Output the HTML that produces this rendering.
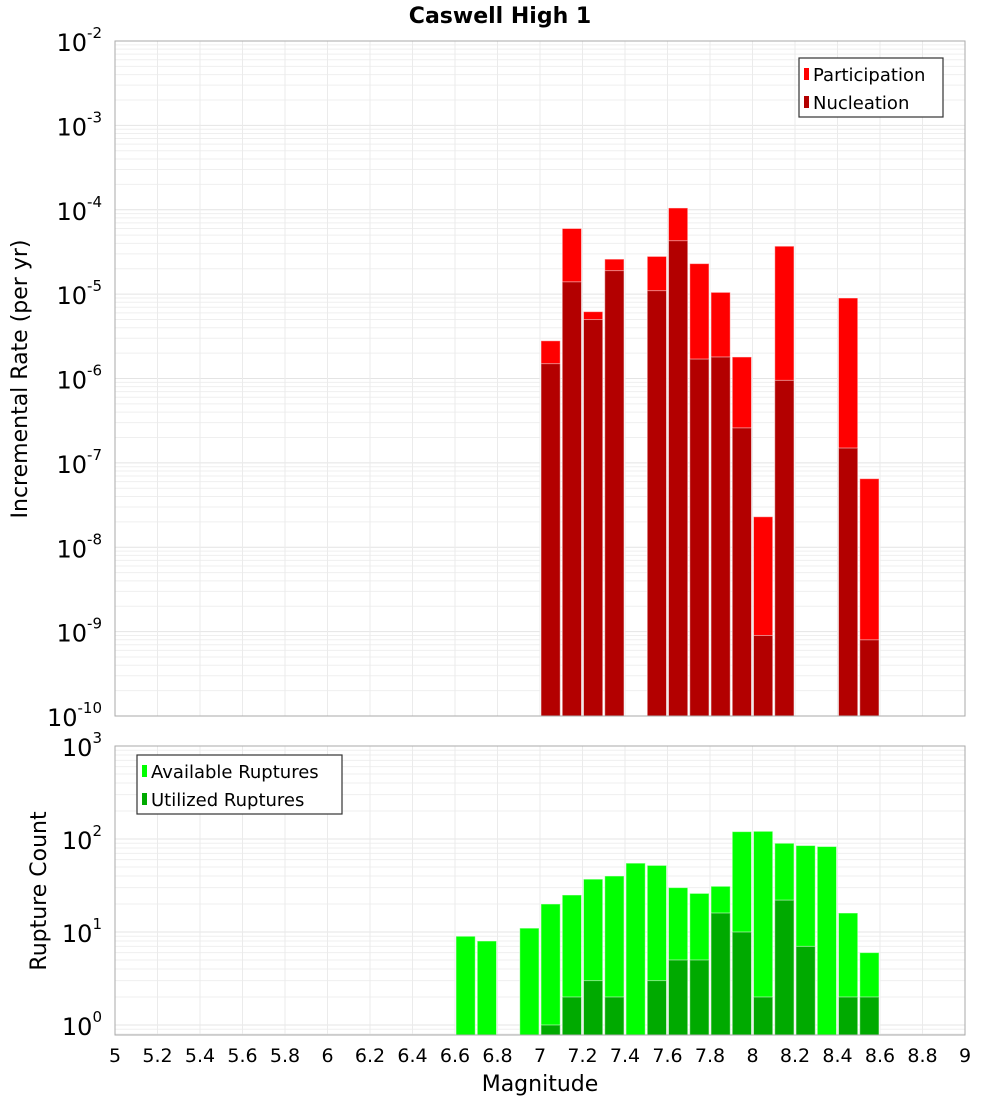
<!DOCTYPE html>
<html><head><meta charset="utf-8"><style>
body{margin:0;background:#fff;font-family:"DejaVu Sans","Liberation Sans",sans-serif}
svg text{font-family:"DejaVu Sans","Liberation Sans",sans-serif}
</style></head><body>
<svg id="c" width="1000" height="1100" xmlns="http://www.w3.org/2000/svg"></svg>
<script>
const mags=[6.6,6.7,6.8,6.9,7.0,7.1,7.2,7.3,7.4,7.5,7.6,7.7,7.8,7.9,8.0,8.1,8.2,8.3,8.4,8.5];
const participation=[0,0,0,0,2.8e-6,6e-5,6.2e-6,2.6e-5,0,2.8e-5,1.05e-4,2.3e-5,1.05e-5,1.8e-6,2.3e-8,3.7e-5,0,0,9e-6,6.5e-8];
const nucleation=[0,0,0,0,1.5e-6,1.4e-5,5e-6,1.9e-5,0,1.1e-5,4.3e-5,1.7e-6,1.8e-6,2.6e-7,9e-10,9.5e-7,0,0,1.5e-7,8e-10];
const available=[9,8,0,11,20,25,37,40,55,52,30,26,31,120,121,90,85,83,16,6];
const utilized=[0,0,0,0,1,2,3,2,0,3,5,5,16,10,2,22,7,0,2,2];
const xTicks=[5,5.2,5.4,5.6,5.8,6,6.2,6.4,6.6,6.8,7,7.2,7.4,7.6,7.8,8,8.2,8.4,8.6,8.8,9];
const topExps=[-10,-9,-8,-7,-6,-5,-4,-3,-2];
const botExps=[0,1,2,3];
const NS="http://www.w3.org/2000/svg";
const svg=document.getElementById('c');
function el(t,a,p){const e=document.createElementNS(NS,t);for(const k in a)e.setAttribute(k,a[k]);(p||svg).appendChild(e);return e;}
const X0=115,X1=965;
const xs=m=>X0+(m-5)/4*(X1-X0);
const T={y0:41,y1:716,lmin:-10,lmax:-2};
const B={y0:746,y1:1035,lmin:Math.log10(0.78),lmax:3};
const ys=(P,v)=>P.y1-(Math.log10(v)-P.lmin)/(P.lmax-P.lmin)*(P.y1-P.y0);
function panel(P,name){
  const g=el('g',{});
  for(let e=Math.floor(P.lmin);e<P.lmax;e++)for(let k=1;k<10;k++){const v=k*Math.pow(10,e);const y=ys(P,v);if(y<P.y0||y>P.y1)continue;el('line',{x1:X0,x2:X1,y1:y,y2:y,stroke:k==1?'#e4e4e4':'#efefef','stroke-width':1},g);}
  xTicks.forEach(t=>{const x=xs(t);el('line',{x1:x,x2:x,y1:P.y0,y2:P.y1,stroke:'#ebebeb','stroke-width':1},g);});
}
panel(T,'top');panel(B,'bottom');
function bars(P,vals,color,name){
  vals.forEach((v,i)=>{if(!v)return;const x=xs(mags[i])+1,w=xs(mags[i]+0.1)-xs(mags[i])-2;const y=ys(P,v);
    const r=el('rect',{x:x,y:y,width:w,height:P.y1-y,fill:color,stroke:'#fff','stroke-opacity':0.5,'stroke-width':1});
    });
}
bars(T,participation,'#ff0000','participation');
bars(T,nucleation,'#b30000','nucleation');
bars(B,available,'#00ff00','available');
bars(B,utilized,'#00aa00','utilized');
[T,B].forEach((P,i)=>{const r=el('rect',{x:X0,y:P.y0,width:X1-X0,height:P.y1-P.y0,fill:'none',stroke:'#aaa','stroke-width':1});});
function ylabels(P,exps,name){
  exps.forEach(e=>{const y=ys(P,Math.pow(10,e));const t=el('text',{x:102,y:y+10,'font-size':24,'text-anchor':'end',fill:'#000'});
    
    t.textContent='10';const s=el('tspan',{dy:-13,'font-size':15},t);s.textContent=String(e);});
}
ylabels(T,topExps,'top-y');ylabels(B,botExps,'bottom-y');
xTicks.forEach(t=>{const tx=el('text',{x:xs(t),y:1062,'font-size':19,'text-anchor':'middle'});tx.textContent=String(t);});
function txt(s,a,n){const t=el('text',a);t.textContent=s;return t;}
txt('Caswell High 1',{x:500,y:23,'font-size':22,'font-weight':'bold','text-anchor':'middle'},'chart-title');
txt('Magnitude',{x:540,y:1091,'font-size':22,'text-anchor':'middle'},'x-axis-title');
txt('Incremental Rate (per yr)',{x:0,y:0,'font-size':22,'text-anchor':'middle',transform:'translate(27,379) rotate(-90)'},'top-y-axis-title');
txt('Rupture Count',{x:0,y:0,'font-size':22,'text-anchor':'middle',transform:'translate(46,891) rotate(-90)'},'bottom-y-axis-title');
function legend(x,y,w,items,name){
  const g=el('g',{});
  el('rect',{x:x,y:y,width:w,height:59,fill:'#fff',stroke:'#333','stroke-width':1.2},g);
  items.forEach((it,i)=>{const cy=y+16+i*28;el('rect',{x:x+5,y:cy-6,width:5,height:12,fill:it[1]},g);
    const t=el('text',{x:x+14,y:cy+7,'font-size':18},g);t.textContent=it[0];});
}
legend(799,58,144,[['Participation','#ff0000'],['Nucleation','#b30000']],'top-legend');
legend(137,755,205,[['Available Ruptures','#00ff00'],['Utilized Ruptures','#00aa00']],'bottom-legend');
</script>
</body></html>
